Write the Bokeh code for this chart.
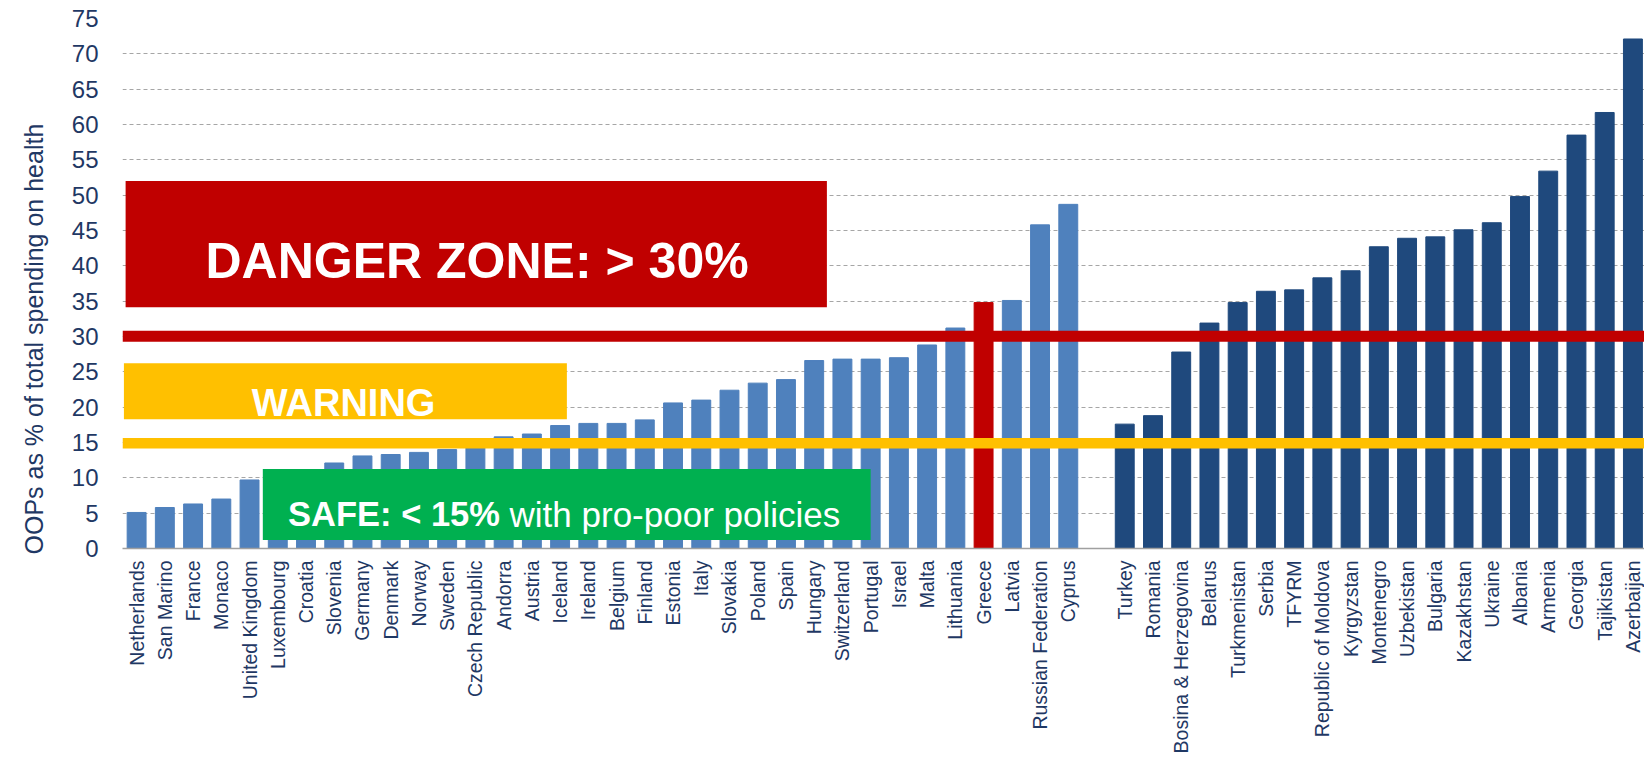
from math import pi
from bokeh.plotting import figure
from bokeh.models import Range1d, FixedTicker, BoxAnnotation, Label, Title, ColumnDataSource
from bokeh.embed import file_html
from bokeh.resources import INLINE

# ---------------- data ----------------
west_countries = ["Netherlands", "San Marino", "France", "Monaco", "United Kingdom", "Luxembourg",
                  "Croatia", "Slovenia", "Germany", "Denmark", "Norway", "Sweden", "Czech Republic",
                  "Andorra", "Austria", "Iceland", "Ireland", "Belgium", "Finland", "Estonia", "Italy",
                  "Slovakia", "Poland", "Spain", "Hungary", "Switzerland", "Portugal", "Israel", "Malta",
                  "Lithuania", "Greece", "Latvia", "Russian Federation", "Cyprus"]
west_values = [5.1, 5.8, 6.3, 7.0, 9.7, 10.8, 11.0, 12.1, 13.1, 13.3, 13.6, 14.0, 14.6,
               15.8, 16.2, 17.4, 17.7, 17.7, 18.2, 20.6, 21.0, 22.4, 23.4, 23.9, 26.6, 26.8,
               26.8, 27.0, 28.8, 31.2, 34.8, 35.1, 45.8, 48.7]

east_countries = ["Turkey", "Romania", "Bosina & Herzegovina", "Belarus", "Turkmenistan", "Serbia",
                  "TFYRM", "Republic of Moldova", "Kyrgyzstan", "Montenegro", "Uzbekistan", "Bulgaria",
                  "Kazakhstan", "Ukraine", "Albania", "Armenia", "Georgia", "Tajikistan", "Azerbaijan"]
east_values = [17.6, 18.8, 27.8, 31.9, 34.8, 36.4, 36.6, 38.3, 39.3, 42.7, 43.9, 44.1,
               45.1, 46.1, 49.8, 53.4, 58.5, 61.7, 72.1]

highlight_country = "Greece"
y_ticks = [0, 5, 10, 15, 20, 25, 30, 35, 40, 45, 50, 55, 60, 65, 70, 75]
y_axis_title = "OOPs as % of total spending on health"
danger_text = "DANGER ZONE: > 30%"
warning_text = "WARNING"
safe_text_bold = "SAFE:  < 15%"
safe_text_rest = "with pro-poor policies"

# ---------------- styling ----------------
WEST_COLOR = "#4f81bd"
EAST_COLOR = "#1f497d"
RED = "#c00000"
YELLOW = "#ffc000"
GREEN = "#00b050"
NAVY = "#1f3864"
FONT = "Liberation Sans"

# one empty slot between the two groups
west_pos = list(range(len(west_countries)))
east_pos = [len(west_countries) + 1 + i for i in range(len(east_countries))]

names = west_countries + east_countries
vals = west_values + east_values
pos = west_pos + east_pos
colors = ([RED if c == highlight_country else WEST_COLOR for c in west_countries]
          + [EAST_COLOR] * len(east_countries))

src = ColumnDataSource(dict(x=pos, top=vals, color=colors, name=names))

p = figure(width=1644, height=758, output_backend="svg", toolbar_location=None,
           x_range=Range1d(-0.5, 53.41), y_range=Range1d(0, 75),
           min_border_left=122, min_border_right=0, min_border_top=18, min_border_bottom=210)
p.outline_line_color = None
p.background_fill_color = "white"
p.border_fill_color = "white"

p.vbar(x="x", top="top", bottom=0, width=0.67, color="color", source=src)

# axes
p.xaxis.ticker = FixedTicker(ticks=pos)
p.xaxis.major_label_overrides = {x: n for x, n in zip(pos, names)}
p.xaxis.major_label_orientation = pi / 2
p.xaxis.major_label_text_font = FONT
p.xaxis.major_label_text_font_size = "19.5px"
p.xaxis.major_label_text_color = NAVY
p.xaxis.major_label_standoff = 6
p.xaxis.major_tick_line_color = None
p.xaxis.minor_tick_line_color = None
p.xaxis.axis_line_color = "#a0a0a0"
p.xaxis.axis_line_width = 1.5
p.xgrid.grid_line_color = None

yax = p.yaxis[0]
yax.ticker = FixedTicker(ticks=y_ticks)
yax.major_label_text_font = FONT
yax.major_label_text_font_size = "24px"
yax.major_label_text_color = NAVY
yax.major_label_standoff = 24
yax.major_tick_out = 0
yax.major_tick_in = 0
yax.minor_tick_out = 0
yax.minor_tick_in = 0
yax.major_tick_line_color = None
yax.minor_tick_line_color = None
yax.axis_line_color = None
p.ygrid.grid_line_color = "#a6a6a6"
p.ygrid.grid_line_dash = "4 3"
p.ygrid.grid_line_width = 1

# y-axis title in the left margin
ttl = Title(text=y_axis_title, align="left", vertical_align="top", offset=-6, standoff=37,
            text_font=FONT, text_font_size="25px", text_font_style="normal", text_color=NAVY)
p.add_layout(ttl, "left")

# zones
p.add_layout(BoxAnnotation(left=-0.39, right=24.45, bottom=34.14, top=52.0,
                           fill_color=RED, fill_alpha=1, line_color=None))
p.add_layout(BoxAnnotation(left=-0.45, right=15.24, bottom=18.3, top=26.2,
                           fill_color=YELLOW, fill_alpha=1, line_color=None))
p.add_layout(BoxAnnotation(bottom=29.25, top=30.8,
                           fill_color=RED, fill_alpha=1, line_color=None))
p.add_layout(BoxAnnotation(bottom=14.15, top=15.65,
                           fill_color=YELLOW, fill_alpha=1, line_color=None))
p.add_layout(BoxAnnotation(left=4.47, right=26.0, bottom=1.19, top=11.24,
                           fill_color=GREEN, fill_alpha=1, line_color=None))

p.add_layout(Label(x=12.06, y=40.7, text=danger_text, text_align="center",
                   text_baseline="alphabetic", text_font=FONT, text_font_size="50px",
                   text_font_style="bold", text_color="white"))
p.add_layout(Label(x=7.33, y=20.57, text=warning_text, text_align="center",
                   text_baseline="alphabetic", text_font=FONT, text_font_size="38px",
                   text_font_style="bold", text_color="white"))
p.add_layout(Label(x=13.21, y=4.86, text=safe_text_bold, text_align="right",
                   text_baseline="alphabetic", text_font=FONT, text_font_size="34.5px",
                   text_font_style="bold", text_color="white"))
p.add_layout(Label(x=13.21, y=4.86, text=safe_text_rest, text_align="left",
                   text_baseline="alphabetic", text_font=FONT, text_font_size="35px",
                   text_font_style="normal", text_color="white"))

open("out.html", "w").write(file_html(p, INLINE))
